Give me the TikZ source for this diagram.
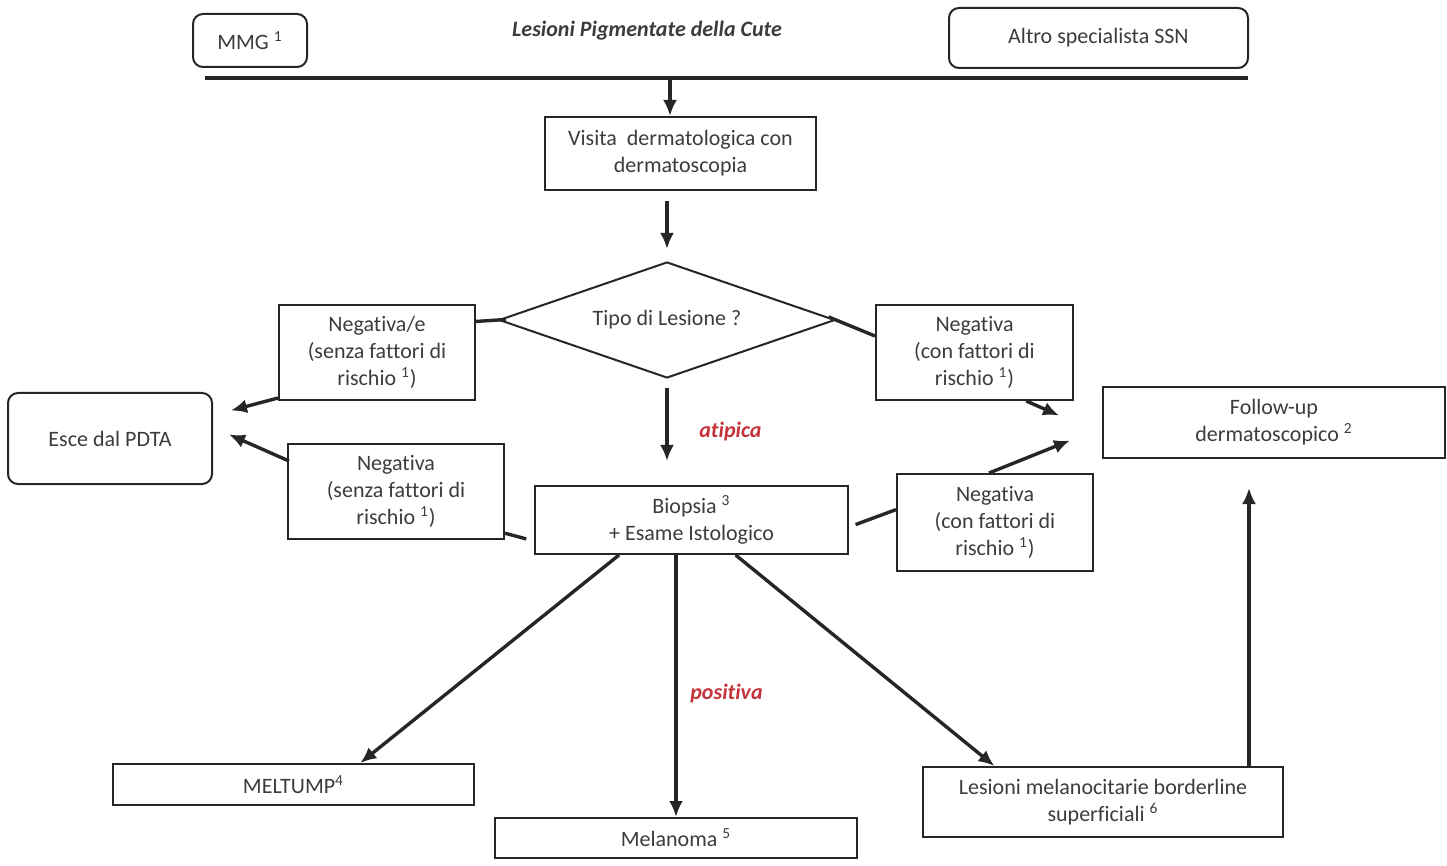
\documentclass[tikz,border=0pt]{standalone}
\usepackage{fontspec}
\setmainfont{Carlito}[Ligatures=NoCommon]
\usetikzlibrary{arrows.meta,calc,shapes.geometric}
\definecolor{txtgray}{RGB}{60,60,60}
\definecolor{lblred}{RGB}{196,52,58}
\newcommand{\supn}[1]{\textsuperscript{#1}}

\begin{document}
\begin{tikzpicture}[x=.5pt,y=-.5pt,font=\fontsize{11}{13.5}\selectfont,text=txtgray,
    box/.style={draw=black!85,line width=1pt,align=center,inner sep=2pt},
    rbox/.style={box,rounded corners=5pt},
    arr/.style={-{Latex[length=8pt,width=7pt]},line width=1.7pt,draw=black!85},
    con/.style={line width=1.7pt,draw=black!85},
    lbl/.style={text=lblred,font=\fontsize{11}{13}\selectfont\bfseries\itshape}]
    \useasboundingbox (0,0) rectangle (1447,866);
    \node[rbox,minimum width=57pt,minimum height=26.5pt] (mmg) at (250,40.5) {MMG \supn{1}};
    \node[rbox,minimum width=149.5pt,minimum height=30pt] (altro) at (1098.5,38) {Altro specialista SSN};
    \node[font=\fontsize{11}{13}\selectfont\bfseries\itshape] (title) at (647,31) {Lesioni Pigmentate della Cute};
    \coordinate (barL) at (205,78);
    \coordinate (barR) at (1248,78);
    \coordinate (barmid) at (670,78);
    \draw[line width=2pt,black!85] (barL) -- (barR);
    \node[box,minimum width=135.5pt,minimum height=36.5pt] (visita) at (680.5,153.5) {Visita\ \ dermatologica con\\dermatoscopia};
    \node[draw=black!85,line width=1pt,diamond,aspect=2.9,minimum width=168pt,minimum height=58pt,inner sep=0pt] (dia) at (667,320) {Tipo di Lesione ?};
    \node[box,minimum width=98pt,minimum height=47.5pt] (negL) at (377,352.5) {Negativa/e\\(senza fattori di\\rischio \supn{1})};
    \node[box,minimum width=98.5pt,minimum height=47.5pt] (negR) at (974.5,352.5) {Negativa\\(con fattori di\\rischio \supn{1})};
    \node[rbox,minimum width=102pt,minimum height=45.5pt] (esce) at (110,438.5) {Esce dal PDTA};
    \node[box,minimum width=171pt,minimum height=35.5pt] (follow) at (1274,422.5) {Follow-up\\dermatoscopico \supn{2}};
    \node[box,minimum width=156.5pt,minimum height=34pt] (biopsia) at (691.5,520) {Biopsia \supn{3}\\+ Esame Istologico};
    \node[box,minimum width=108pt,minimum height=47.5pt] (negLL) at (396,491.5) {Negativa\\(senza fattori di\\rischio \supn{1})};
    \node[box,minimum width=98pt,minimum height=48.5pt] (negRL) at (995,522.5) {Negativa\\(con fattori di\\rischio \supn{1})};
    \node[box,minimum width=180.5pt,minimum height=20.5pt] (meltump) at (293.5,784.5) {MELTUMP\supn{4}};
    \node[box,minimum width=181pt,minimum height=20pt] (melanoma) at (676,838) {Melanoma \supn{5}};
    \node[box,minimum width=180pt,minimum height=35pt] (border) at (1103,802) {Lesioni melanocitarie borderline\\superficiali \supn{6}};
    \coordinate (bup) at ($(border.north east)+(-35,0)$);
    \draw[arr] (barmid) -- (barmid |- visita.north);
    \draw[arr,shorten <=5pt,shorten >=6pt] (visita.south -| dia.north) -- (dia.north);
    \draw[arr,shorten <=4.5pt,shorten >=12pt] (dia.south) -- (dia.south |- biopsia.north)
      node[lbl,midway,right=12pt] (atip) {atipica};
    \draw[con,shorten <=-4pt] (dia.west) -- ($(negL.north east)!.18!(negL.south east)$);
    \draw[con,shorten <=-4pt] (dia.east) -- ($(negR.north west)!.33!(negR.south west)$);
    \draw[arr] ($(negL.south west)+(0,-3)$) -- ($(esce.east)+(18,-28)$);
    \draw[arr] ($(negLL.north west)+(2,18)$) -- ($(esce.east)+(16,-4)$);
    \draw[con,shorten >=4pt] ($(negLL.north east)!.93!(negLL.south east)$) -- ($(biopsia.north west)!.8!(biopsia.south west)$);
    \draw[con,shorten <=3.5pt] ($(biopsia.north east)!.6!(biopsia.south east)$) -- ($(negRL.north west)!.37!(negRL.south west)$);
    \draw[arr] ($(negR.south west)!.76!(negR.south east)$) -- ($(follow.west)+(-43,-7)$);
    \draw[arr] ($(negRL.north west)!.47!(negRL.north east)$) -- ($(follow.west)+(-32,18)$);
    \draw[arr] ($(biopsia.south west)!.27!(biopsia.south east)$) -- ($(meltump.north west)!.684!(meltump.north east)$);
    \draw[arr] (melanoma.north |- biopsia.south) -- (melanoma.north)
      node[lbl,pos=.53,right=3pt] (posit) {positiva};
    \draw[arr] ($(biopsia.south west)!.64!(biopsia.south east)$) -- ($(border.north west)!.2!(border.north east)$);
    \draw[arr,shorten >=14.5pt] (bup) -- (bup |- follow.south);
\end{tikzpicture}
\end{document}
